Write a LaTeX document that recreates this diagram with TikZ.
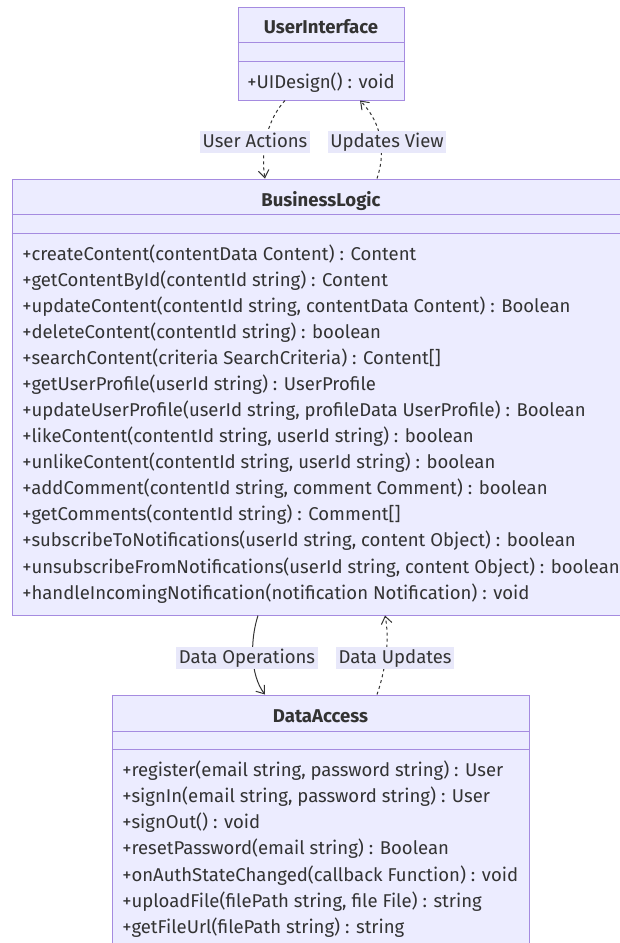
\documentclass[tikz,border=0pt]{standalone}
\usepackage{fontspec}
\setmainfont{Fira Sans}
\usetikzlibrary{arrows.meta}

\begin{document}
\begin{tikzpicture}[x=0.75pt,y=-0.75pt,every node/.style={text=txt,inner sep=0pt,font=\fontsize{13.9}{16}\selectfont,text height=9.8pt,text depth=2.8pt}]
  \definecolor{boxfill}{HTML}{ECECFF} \definecolor{bord}{HTML}{A58BE0} \definecolor{lblfill}{HTML}{E8E8FA} \definecolor{txt}{HTML}{333333}
  \tikzstyle{classe}=[draw=bord, fill=boxfill, line width=0.75pt]
  \tikzstyle{sep}=[draw=bord, line width=0.75pt]
  \tikzstyle{texte}=[yshift=-1.8pt]
  \tikzstyle{titre}=[texte, font=\fontsize{13.9}{16}\selectfont\bfseries]
  \tikzstyle{edge}=[-{Straight Barb[length=5.5pt,width=8pt]}, draw=txt, line width=0.75pt]
  \tikzstyle{dep}=[edge, dash pattern=on 2.25pt off 2.25pt]
  \tikzstyle{lbl}=[texte, fill=lblfill, inner xsep=2pt, inner ysep=2pt]
  \useasboundingbox (0,0) rectangle (620,943);
  \clip (0,0) rectangle (620,943);
  % classes
  \node[classe, minimum width=124.5pt, minimum height=69.75pt] (ui) at (321,53.5) {};
  \node[classe, minimum width=463.5pt, minimum height=327pt] (bl) at (321,397) {};
  \node[classe, minimum width=312.75pt, minimum height=198.75pt] (da) at (320.5,827.5) {};
  \draw[sep] (ui.west |- 0,42) -- (ui.east |- 0,42);
  \draw[sep] (ui.west |- 0,61) -- (ui.east |- 0,61);
  \draw[sep] (bl.west |- 0,214) -- (bl.east |- 0,214);
  \draw[sep] (bl.west |- 0,233) -- (bl.east |- 0,233);
  \draw[sep] (da.west |- 0,731) -- (da.east |- 0,731);
  \draw[sep] (da.west |- 0,749) -- (da.east |- 0,749);
  \node[titre] (uititle) at (321,26) {UserInterface};
  \node[titre] (bltitle) at (321,199) {BusinessLogic};
  \node[titre] (datitle) at (320.5,715) {DataAccess};
  \node[texte, anchor=west] (uim1) at (247,81) {+UIDesign() : void};
  \foreach \m [count=\i] in {{+createContent(contentData Content) : Content},
      {+getContentById(contentId string) : Content},
      {+updateContent(contentId string, contentData Content) : Boolean},
      {+deleteContent(contentId string) : boolean},
      {+searchContent(criteria SearchCriteria) : Content[]},
      {+getUserProfile(userId string) : UserProfile},
      {+updateUserProfile(userId string, profileData UserProfile) : Boolean},
      {+likeContent(contentId string, userId string) : boolean},
      {+unlikeContent(contentId string, userId string) : boolean},
      {+addComment(contentId string, comment Comment) : boolean},
      {+getComments(contentId string) : Comment[]},
      {+subscribeToNotifications(userId string, content Object) : boolean},
      {+unsubscribeFromNotifications(userId string, content Object) : boolean},
      {+handleIncomingNotification(notification Notification) : void}} {
    \node[texte, anchor=west] (blm\i) at (22, 253 + 26.08*\i - 26.08) {\m};
  }
  \foreach \m [count=\i] in {{+register(email string, password string) : User},
      {+signIn(email string, password string) : User},
      {+signOut() : void},
      {+resetPassword(email string) : Boolean},
      {+onAuthStateChanged(callback Function) : void},
      {+uploadFile(filePath string, file File) : string},
      {+getFileUrl(filePath string) : string}} {
    \node[texte, anchor=west] (dam\i) at (122, 769 + 26.3*\i - 26.3) {\m};
  }
  % relations
  \draw[dep] (ui.south -| 285,0) .. controls (265,122) and (261,155) .. (bl.north -| 265,0);
  \draw[dep] (bl.north -| 377,0) .. controls (385,155) and (384,125) .. (ui.south -| 360,0);
  \draw[edge] (bl.south -| 258,0) .. controls (250,640) and (250,675) .. (da.north -| 265,0);
  \draw[dep] (da.north -| 377,0) .. controls (385,672) and (390,640) .. (bl.south -| 385,0);
  \node[lbl] (ua) at (255,140) {User Actions};
  \node[lbl] (uv) at (387,140) {Updates View};
  \node[lbl] (dop) at (247,656) {Data Operations};
  \node[lbl] (dup) at (395,656) {Data Updates};
\end{tikzpicture}
\end{document}
